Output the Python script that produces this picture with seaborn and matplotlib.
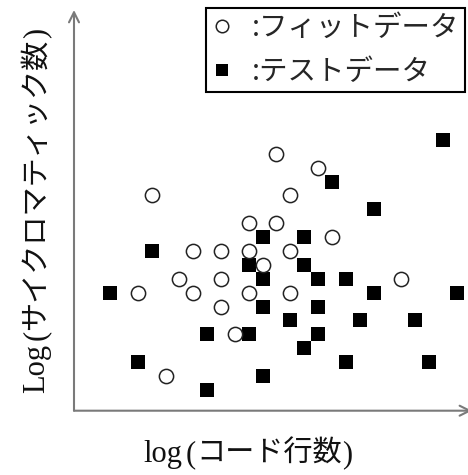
import matplotlib
matplotlib.use("Agg")
import matplotlib.pyplot as plt
import seaborn as sns
from matplotlib.lines import Line2D

# Grid positions (log code lines, log cyclomatic number) of each program
fit_x = [3, 13, 12, 15, 10, 12, 16, 6, 8, 10, 13, 11, 5, 8, 21, 2, 6, 10, 13, 8, 9, 4]
fit_y = [14, 14, 17, 16, 12, 12, 11, 10, 10, 10, 10, 9, 8, 8, 8, 7, 7, 7, 7, 6, 4, 1]
test_x = [24, 16, 19, 11, 14, 3, 10, 14, 11, 15, 17, 0, 19, 25, 11, 15, 13, 18, 22,
          7, 10, 15, 14, 2, 17, 23, 11, 7]
test_y = [18, 15, 13, 11, 11, 10, 9, 9, 8, 8, 8, 7, 7, 7, 6, 6, 5, 5, 5,
          4, 4, 4, 3, 2, 2, 2, 1, 0]

legend_labels = [":フィットデータ", ":テストデータ"]
# axis titles split into runs so the Latin part is set in a serif face
x_label_parts = ["log", "(", "コード行数", ")"]
y_label_parts = ["Log", "(", "サイクロマティック数", ")"]

sns.set_theme(style="white")
plt.rcParams["font.family"] = ["Noto Sans CJK JP", "DejaVu Sans"]

W, H = 468, 475
fig = plt.figure(figsize=(W / 100, H / 100), dpi=100)
ax = fig.add_axes([74 / W, 64.3 / H, 394 / W, 400.7 / H])

sns.scatterplot(x=test_x, y=test_y, marker="s", s=115, color="black",
                linewidth=0, ax=ax, zorder=2)
sns.scatterplot(x=fit_x, y=fit_y, marker="o", s=105, facecolor="white",
                edgecolor="#222222", linewidth=1.1, ax=ax, zorder=3)

ax.set_xlim(-2.6, 25.81)
ax.set_ylim(-1.49, 27.34)
ax.set_xticks([])
ax.set_yticks([])
for sp in ax.spines.values():
    sp.set_visible(False)

axis_col = "#7a7a7a"
arrow = dict(arrowstyle="->", color=axis_col, lw=1.5, mutation_scale=18,
             shrinkA=0, shrinkB=0)
ax.annotate("", xy=(0, 1), xytext=(0, 0), xycoords="axes fraction",
            arrowprops=arrow, annotation_clip=False)
ax.annotate("", xy=(1.01, 0), xytext=(0, 0), xycoords="axes fraction",
            arrowprops=arrow, annotation_clip=False)

serif = dict(family="Liberation Serif", fontsize=22)
gothic = dict(family="Noto Sans CJK JP", fontsize=21)
styles = [serif, serif, gothic, serif]
gaps = [4, 0, 0, 0]
renderer = fig.canvas.get_renderer()


def chain_text(parts, x0, y0, vertical):
    """Place text runs one after another along a shared baseline (pixels)."""
    x, y = x0, y0
    for part, st, gap in zip(parts, styles, gaps):
        t = fig.text(x / W, y / H, part, ha="left", va="baseline",
                     rotation=90 if vertical else 0, rotation_mode="anchor",
                     color="#111111", **st)
        bb = t.get_window_extent(renderer)
        if vertical:
            y = bb.y1 + gap
        else:
            x = bb.x1 + gap


chain_text(x_label_parts, 143, H - 462, vertical=False)
chain_text(y_label_parts, 44, H - 393, vertical=True)

handles = [
    Line2D([], [], linestyle="none", marker="o", markersize=9,
           markerfacecolor="white", markeredgecolor="#222222", markeredgewidth=1.1),
    Line2D([], [], linestyle="none", marker="s", markersize=9,
           markerfacecolor="black", markeredgewidth=0),
]
leg = fig.legend(handles, legend_labels, loc="upper right",
                 bbox_to_anchor=(465 / W, 1 - 8 / H), borderaxespad=0,
                 fontsize=20.5, frameon=True, fancybox=False, framealpha=1,
                 edgecolor="black", handlelength=0.8, handletextpad=0.65,
                 borderpad=0.18, labelspacing=0.48)
leg.get_frame().set_linewidth(1.5)

fig.savefig("out.png", dpi=100, facecolor="white")
